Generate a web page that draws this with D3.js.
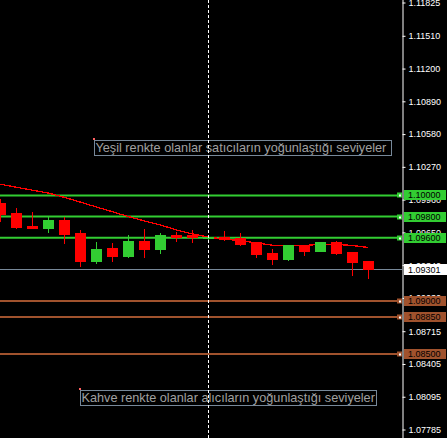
<!DOCTYPE html>
<html lang="tr">
<head>
<meta charset="utf-8">
<title>EURUSD</title>
<script src="https://d3js.org/d3.v7.min.js"></script>
<style>
  html, body { margin: 0; padding: 0; background: #000; }
  svg { display: block; }
  .axis text { font-family: "Liberation Sans", Arial, sans-serif; font-size: 9px; fill: #fff; }
  .axis path, .axis line { stroke: #fff; }
</style>
</head>
<body>
<div id="chart"></div>
<script>
// candles (oldest -> newest)
var opens  = [1.09928, 1.09834, 1.09711, 1.09694, 1.09767, 1.09644, 1.09379, 1.09502, 1.09427, 1.09569, 1.09493, 1.09625,
              1.09625, 1.09597, 1.09604, 1.09594, 1.09556, 1.09455, 1.09398, 1.09531, 1.09474, 1.09559, 1.09465, 1.09379];
var highs  = [1.09966, 1.09881, 1.09843, 1.09796, 1.09796, 1.09673, 1.09559, 1.09550, 1.09625, 1.09682, 1.09644, 1.09654,
              1.09673, 1.09625, 1.09663, 1.09644, 1.09559, 1.09493, 1.09531, 1.09535, 1.09559, 1.09569, 1.09465, 1.09379];
var lows   = [1.09758, 1.09692, 1.09690, 1.09654, 1.09550, 1.09332, 1.09361, 1.09379, 1.09417, 1.09417, 1.09455, 1.09569,
              1.09559, 1.09559, 1.09578, 1.09535, 1.09417, 1.09351, 1.09389, 1.09436, 1.09474, 1.09446, 1.09247, 1.09219];
var closes = [1.09824, 1.09701, 1.09696, 1.09767, 1.09635, 1.09379, 1.09493, 1.09427, 1.09569, 1.09493, 1.09625, 1.09606,
              1.09606, 1.09602, 1.09592, 1.09540, 1.09446, 1.09398, 1.09531, 1.09474, 1.09559, 1.09455, 1.09370, 1.09301];

// moving average, one value per candle
var maValues = [1.10105, 1.10077, 1.10049, 1.10022, 1.09981, 1.09936, 1.09890, 1.09845, 1.09799, 1.09758, 1.09720, 1.09673,
                1.09635, 1.09606, 1.09585, 1.09573, 1.09550, 1.09528, 1.09526, 1.09526, 1.09537, 1.09536, 1.09526, 1.09507];

var greenLevels = [1.10000, 1.09800, 1.09600];
var brownLevels = [1.09000, 1.08850, 1.08500];
var bid = 1.09301;
var cursorIndex = 13;

var tickVals = [1.11825, 1.11510, 1.11200, 1.10890, 1.10580, 1.10270, 1.09960, 1.09650, 1.09340, 1.09030,
                1.08715, 1.08405, 1.08095, 1.07785];

var noteTop = "Yeşil renkte olanlar satıcıların yoğunlaştığı seviyeler";
var noteBottom = "Kahve renkte olanlar alıcıların yoğunlaştığı seviyeler";

const W = 447, H = 438, axisX = 402.5;
const green = "#32cd32", brown = "#a0522d", bull = "#32cd32", bear = "#ff0000";

const svg = d3.select("#chart").append("svg")
    .attr("width", W).attr("height", H)
    .style("background", "#000");

const x = d3.scaleLinear().domain([0, opens.length - 1]).range([0.5, 368.5]);
const y = d3.scaleLinear().domain([1.11825, 1.07785]).range([2.5, 429.5]);

// axis (labels get covered by the level boxes later)
svg.append("g")
    .attr("class", "axis")
    .attr("transform", `translate(${axisX},0)`)
    .call(d3.axisRight(y).tickValues(tickVals).tickSize(3).tickSizeOuter(0).tickPadding(3)
        .tickFormat(d3.format(".5f")))
    .call(g => g.select(".domain").attr("d", `M0.5,0V${H}`));

// level lines
function levelLines(levels, color) {
    svg.append("g").selectAll("line")
        .data(levels)
        .join("line")
        .attr("x1", 0).attr("x2", 397)
        .attr("y1", d => y(d)).attr("y2", d => y(d))
        .attr("stroke", color).attr("stroke-width", 2);
}
levelLines(greenLevels, green);
levelLines(brownLevels, brown);

// bid line
svg.append("line")
    .attr("x1", 0).attr("x2", axisX)
    .attr("y1", Math.round(y(bid)) + 0.5).attr("y2", Math.round(y(bid)) + 0.5)
    .attr("stroke", "#778899").attr("stroke-width", 1);

// moving average
const idx = d3.range(opens.length);
svg.append("path")
    .datum(idx)
    .attr("fill", "none")
    .attr("stroke", bear)
    .attr("stroke-width", 1.3)
    .attr("shape-rendering", "crispEdges")
    .attr("d", d3.line().x(i => x(i)).y(i => y(maValues[i])));

// candles
const c = svg.append("g").attr("shape-rendering", "crispEdges");
c.selectAll(".wick")
    .data(idx)
    .join("line")
    .attr("class", "wick")
    .attr("x1", i => Math.floor(x(i)) + 0.5).attr("x2", i => Math.floor(x(i)) + 0.5)
    .attr("y1", i => y(highs[i])).attr("y2", i => y(lows[i]) + 1)
    .attr("stroke", i => closes[i] >= opens[i] ? bull : bear)
    .attr("stroke-width", 1);
c.selectAll(".body")
    .data(idx)
    .join("rect")
    .attr("class", "body")
    .attr("x", i => Math.floor(x(i)) - 5)
    .attr("width", 11)
    .attr("y", i => y(Math.max(opens[i], closes[i])))
    .attr("height", i => Math.max(1.5, Math.abs(y(opens[i]) - y(closes[i])) + 1))
    .attr("fill", i => closes[i] >= opens[i] ? bull : bear);

// text notes
function note(txt, x0, yTop, w) {
    const g = svg.append("g");
    g.append("rect")
        .attr("x", x0 + 0.5).attr("y", yTop + 0.5)
        .attr("width", w).attr("height", 15)
        .attr("fill", "none").attr("stroke", "#778899");
    g.append("text")
        .attr("x", x0 + 1.5).attr("y", yTop + 12)
        .attr("fill", "#a0a0a0")
        .style("font-family", "'Liberation Sans', Arial, sans-serif")
        .style("font-size", "12.7px")
        .text(txt);
    g.append("rect")
        .attr("x", x0 - 1).attr("y", yTop - 2)
        .attr("width", 2).attr("height", 2)
        .attr("fill", "#ff6060");
}
note(noteTop, 94, 140, 297);
note(noteBottom, 80, 390, 296);

// cursor line
svg.append("line")
    .attr("x1", Math.floor(x(cursorIndex)) + 0.5).attr("x2", Math.floor(x(cursorIndex)) + 0.5)
    .attr("y1", 0).attr("y2", H)
    .attr("stroke", "#fff")
    .attr("stroke-dasharray", "3,2");

// level markers + price boxes on the scale
function levelTags(levels, color, textColor) {
    const g = svg.append("g").selectAll("g")
        .data(levels)
        .join("g")
        .attr("transform", d => `translate(0,${Math.round(y(d))})`);
    g.append("rect")
        .attr("x", 397).attr("y", -2.5).attr("width", 5).attr("height", 5)
        .attr("fill", color);
    g.append("rect")
        .attr("x", 399).attr("y", -0.5).attr("width", 2).attr("height", 2)
        .attr("fill", "#fff");
    g.append("rect")
        .attr("x", 404).attr("y", -5).attr("width", 42).attr("height", 10)
        .attr("fill", color);
    g.append("text")
        .attr("x", 408).attr("y", 0).attr("dy", "0.35em")
        .attr("fill", textColor)
        .style("font-family", "'Liberation Sans', Arial, sans-serif")
        .style("font-size", "9px")
        .text(d => d3.format(".5f")(d));
}
levelTags(greenLevels, green, "#000");
levelTags(brownLevels, brown, "#000");

// bid tag
const bt = svg.append("g").attr("transform", `translate(0,${Math.round(y(bid))})`);
bt.append("rect").attr("x", 404).attr("y", -5).attr("width", 43).attr("height", 11).attr("fill", "#fff");
bt.append("text")
    .attr("x", 408).attr("y", 0.5).attr("dy", "0.35em")
    .attr("fill", "#000")
    .style("font-family", "'Liberation Sans', Arial, sans-serif")
    .style("font-size", "9px")
    .text(d3.format(".5f")(bid));
</script>
</body>
</html>
